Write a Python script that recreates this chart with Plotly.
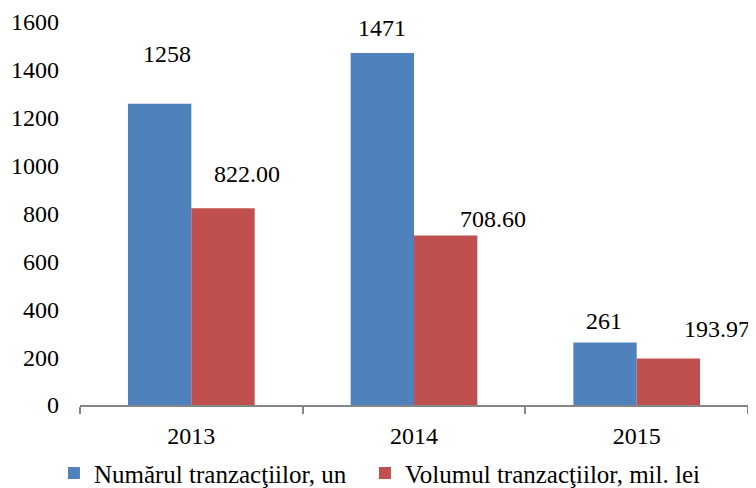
import plotly.graph_objects as go

years = ["2013", "2014", "2015"]
numar = [1258, 1471, 261]
volum = [822.00, 708.60, 193.97]
numar_labels = ["1258", "1471", "261"]
volum_labels = ["822.00", "708.60", "193.97"]
series_names = ["Numărul tranzacţiilor, un", "Volumul tranzacţiilor, mil. lei"]

FONT = "Liberation Serif, Times New Roman, serif"

fig = go.Figure()
fig.add_trace(go.Bar(x=years, y=numar, name=series_names[0], marker_color="#4F81BD",
                     marker_line_width=0, legend="legend"))
fig.add_trace(go.Bar(x=years, y=volum, name=series_names[1], marker_color="#C0504D",
                     marker_line_width=0, legend="legend2"))

# label offsets in pixels (x from category centre, y above bar top) as in the reference
num_shift = [(-24, 50), (-32, 24.5), (-32.5, 21.7)]
vol_shift = [(55.5, 34), (79.4, 16), (80, 30)]
for i in range(len(years)):
    fig.add_annotation(x=i, y=numar[i], text=numar_labels[i], showarrow=False,
                       xshift=num_shift[i][0], yshift=num_shift[i][1],
                       xanchor="center", yanchor="middle",
                       font=dict(size=24, color="black", family=FONT))
    fig.add_annotation(x=i, y=volum[i], text=volum_labels[i], showarrow=False,
                       xshift=vol_shift[i][0], yshift=vol_shift[i][1],
                       xanchor="center", yanchor="middle",
                       font=dict(size=24, color="black", family=FONT))

legend_style = dict(orientation="h", xanchor="left", y=-0.178, yanchor="middle",
                    font=dict(size=25, family=FONT), itemwidth=30,
                    bgcolor="rgba(0,0,0,0)", borderwidth=0)

# the page body adds an 8px margin, so the figure is sized 748x480
fig.update_layout(
    width=748, height=480,
    margin=dict(l=72, r=8, t=14, b=83, autoexpand=False),
    paper_bgcolor="white", plot_bgcolor="white",
    font=dict(family=FONT, size=24, color="black"),
    barmode="group", bargap=0.431, bargroupgap=0,
    showlegend=True,
    legend=dict(x=-0.039, **legend_style),
    legend2=dict(x=0.4266, **legend_style),
    xaxis=dict(type="category", range=[-0.5, 2.5], showline=True, linecolor="#868686",
               linewidth=2, ticks="outside", tickson="boundaries", ticklen=7,
               tickcolor="#868686", tickwidth=2, showgrid=False, tickfont=dict(size=24),
               ticklabelstandoff=8, automargin=False),
    yaxis=dict(range=[0, 1600], dtick=200, showgrid=False, showline=False,
               zeroline=False, ticks="", tickfont=dict(size=24), ticklabelstandoff=20,
               automargin=False),
)

fig.write_html("out.html")
